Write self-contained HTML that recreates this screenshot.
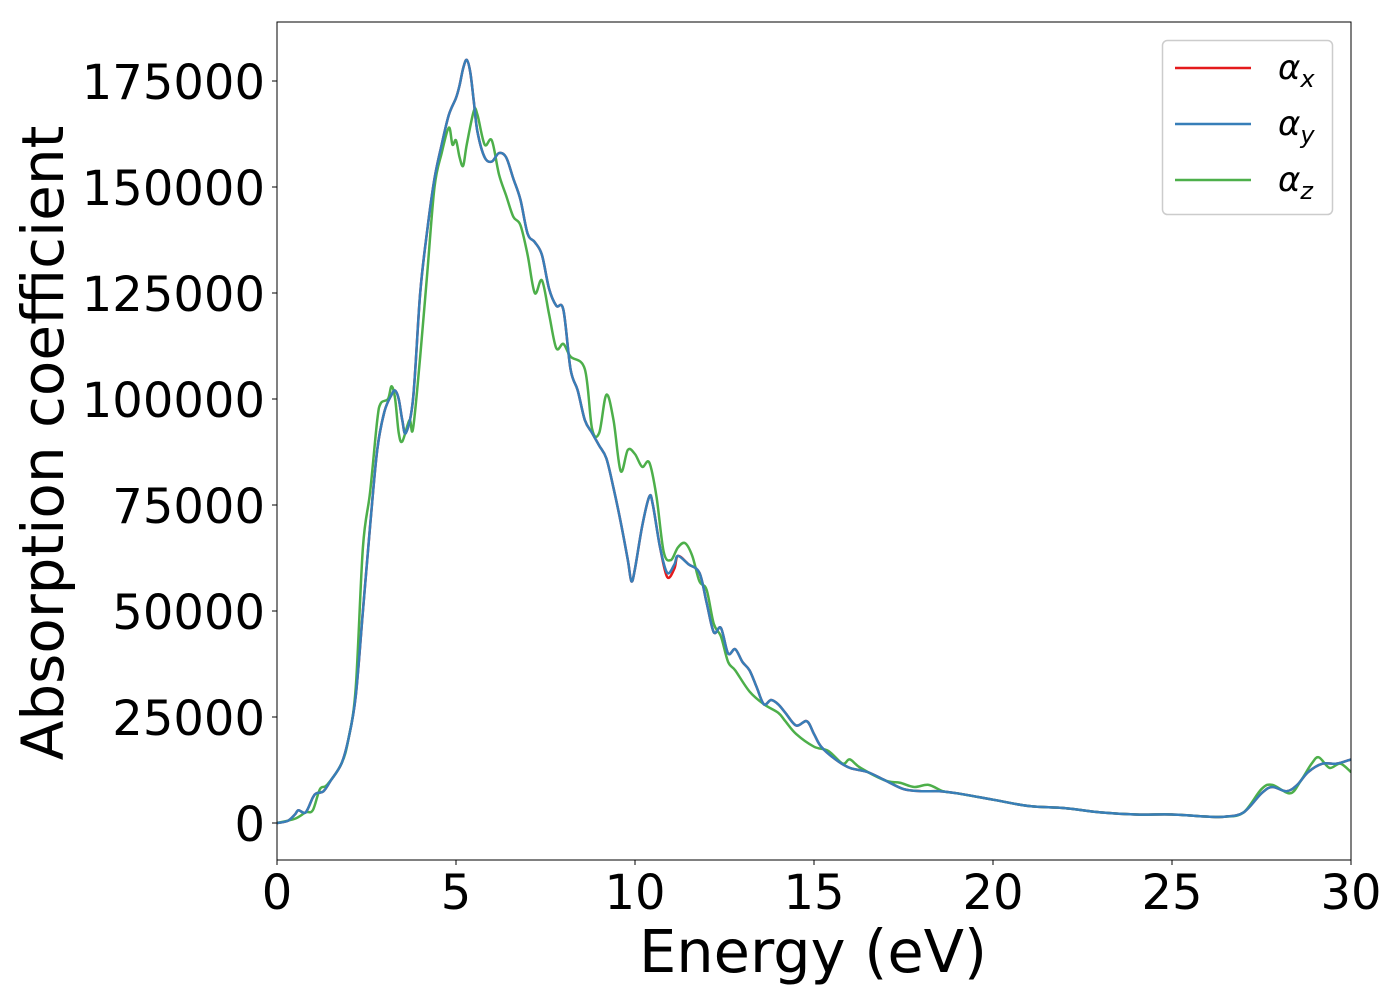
<!DOCTYPE html>
<html><head><meta charset="utf-8"><style>
body{margin:0;background:#fff}
svg text{font-family:"DejaVu Sans","Liberation Sans",sans-serif;fill:#000}
</style></head><body>
<svg id="chart" width="1400" height="1000" xmlns="http://www.w3.org/2000/svg"></svg>
<script>
const energyXY=[0,0.3,0.5,0.6,0.8,1.0,1.1,1.3,1.5,1.8,2.0,2.2,2.4,2.6,2.8,3.0,3.2,3.3,3.4,3.5,3.6,3.8,4.0,4.2,4.4,4.6,4.8,5.0,5.1,5.2,5.3,5.4,5.5,5.6,5.8,6.0,6.2,6.4,6.6,6.8,7.0,7.2,7.4,7.6,7.8,8.0,8.2,8.4,8.6,8.8,9.0,9.2,9.4,9.6,9.8,9.9,10.0,10.2,10.4,10.5,10.7,10.9,11.1,11.2,11.5,11.8,12.0,12.2,12.4,12.6,12.8,13.0,13.2,13.4,13.6,13.8,14.0,14.2,14.5,14.8,15.0,15.2,15.6,16.0,16.5,17.0,17.5,18.0,18.5,19.0,20,21,22,23,24,25,26,26.5,27,27.5,27.8,28.2,28.5,28.8,29.2,29.6,30];
const alphaY=[0,500,2000,3000,2500,6000,7000,7500,10000,14000,20000,30000,50000,70000,88000,97000,101000,102000,100000,95000,92000,100000,125000,140000,152000,160000,167000,171000,174000,178000,180000,177000,170000,163000,157000,156000,158000,157000,152000,147000,139000,137000,134000,126000,122000,121000,107000,102000,95000,92000,89000,86000,79000,71000,62000,57000,60000,70000,77000,75000,65000,59000,61000,63000,61000,59000,52000,45000,46000,40000,41000,38000,36000,32000,28000,29000,28000,26000,23000,24000,21000,18000,15000,13000,12000,10000,8000,7500,7500,7000,5500,4000,3500,2500,2000,2000,1500,1500,2500,7000,8500,7500,9000,12000,14000,14000,15000];
const alphaX=alphaY.map((v,i)=>energyXY[i]===10.9?58000:(energyXY[i]===11.1?60000:v));
const energyZ=[0,0.5,0.8,1.0,1.2,1.4,1.8,2.0,2.2,2.4,2.6,2.8,2.9,3.1,3.2,3.3,3.4,3.5,3.7,3.8,4.0,4.2,4.4,4.6,4.8,4.9,5.0,5.1,5.2,5.3,5.5,5.6,5.8,6.0,6.2,6.4,6.6,6.8,7.0,7.2,7.4,7.6,7.8,8.0,8.2,8.6,8.8,9.0,9.2,9.4,9.6,9.8,10.0,10.2,10.4,10.6,10.8,11.0,11.2,11.4,11.6,11.8,12.0,12.2,12.4,12.6,12.8,13.2,13.6,14.0,14.2,14.5,15.0,15.4,15.8,16.0,16.3,17,17.4,17.8,18.2,18.6,19,20,21,22,23,24,25,26,26.5,27,27.5,27.8,28.3,28.6,28.9,29.1,29.4,29.7,30];
const alphaZ=[0,1000,2500,3000,8000,9000,14000,20000,32000,65000,78000,95000,99000,100000,103000,100000,92000,90000,95000,93000,110000,130000,150000,158000,164000,160000,161000,157000,155000,160000,168000,167000,160000,161000,153000,148000,143000,141000,134000,125000,128000,120000,112000,113000,110000,107000,93000,92000,101000,95000,83000,88000,87000,84000,85000,77000,64000,62000,65000,66000,63000,57000,55000,47000,44000,38000,36000,31000,28000,26000,24000,21000,18000,17000,14000,15000,13000,10000,9500,8500,9000,7500,7000,5500,4000,3500,2500,2000,2000,1500,1500,2500,8000,9000,7000,10000,14000,15500,13000,14000,12000];
const xTicks=[0,5,10,15,20,25,30];
const yTicks=[0,25000,50000,75000,100000,125000,150000,175000];

const svg=document.getElementById('chart');
const NS='http://www.w3.org/2000/svg';
const L=277,R=1351,T=22,B=860;
const xs=e=>L+(e/30)*(R-L);
const ys=v=>823-v*(742/175000);
function mk(tag,attrs,parent){const el=document.createElementNS(NS,tag);for(const k in attrs)el.setAttribute(k,attrs[k]);(parent||svg).appendChild(el);return el;}
function pathD(xa,ya){const p=xa.map((e,i)=>[xs(e),ys(ya[i])]);let d='M'+p[0][0]+','+p[0][1];
for(let i=0;i<p.length-1;i++){const p0=p[i-1]||p[i],p1=p[i],p2=p[i+1],p3=p[i+2]||p2;
const c1=[p1[0]+(p2[0]-p0[0])/6,p1[1]+(p2[1]-p0[1])/6],c2=[p2[0]-(p3[0]-p1[0])/6,p2[1]-(p3[1]-p1[1])/6];
d+=' C'+c1+' '+c2+' '+p2;}return d;}

const clip=mk('clipPath',{id:'pc'});mk('rect',{x:L,y:T,width:R-L,height:B-T},clip);
const g=mk('g',{'clip-path':'url(#pc)'});


const sx=mk('path',{d:pathD(energyXY,alphaX),fill:'none',stroke:'#e41a1c','stroke-width':2.5},g);


const sz=mk('path',{d:pathD(energyZ,alphaZ),fill:'none',stroke:'#4daf4a','stroke-width':2.5},g);


const sy=mk('path',{d:pathD(energyXY,alphaY),fill:'none',stroke:'#377eb8','stroke-width':2.5},g);



const frame=mk('rect',{x:L,y:T,width:R-L,height:B-T,fill:'none',stroke:'#000','stroke-width':1});



xTicks.forEach(t=>{
  mk('line',{x1:xs(t),x2:xs(t),y1:B,y2:B+5,stroke:'#000'});
  const tx=mk('text',{x:xs(t),y:909,'font-size':48,'text-anchor':'middle'});tx.textContent=t;
  
  
});
yTicks.forEach(t=>{
  mk('line',{x1:L-5,x2:L,y1:ys(t),y2:ys(t),stroke:'#000'});
  const tx=mk('text',{x:L-12,y:ys(t)+18,'font-size':48,'text-anchor':'end'});tx.textContent=t;
  
  
});
const xt=mk('text',{x:813,y:972,'font-size':59,'text-anchor':'middle'});xt.textContent='Energy (eV)';


const yt=mk('text',{x:0,y:0,'font-size':58,'text-anchor':'middle',transform:'translate(63,443) rotate(-90)'});yt.textContent='Absorption coefficient';



const lg=mk('g',{});


mk('rect',{x:1162.5,y:40.5,width:170,height:174,rx:5,fill:'#fff',stroke:'#ccc','stroke-width':1.5},lg);
[['x','#e41a1c',68],['y','#377eb8',124],['z','#4daf4a',180]].forEach(([s,c,y])=>{
  const e=mk('g',{},lg);
  
  
  mk('line',{x1:1175,x2:1251,y1:y,y2:y,stroke:c,'stroke-width':2.5},e);
  const t=mk('text',{x:1278,y:y+11,'font-size':34,'font-style':'italic'},e);
  t.innerHTML='α<tspan dy="8" font-size="24">'+s+'</tspan>';
});
</script>
</body></html>
